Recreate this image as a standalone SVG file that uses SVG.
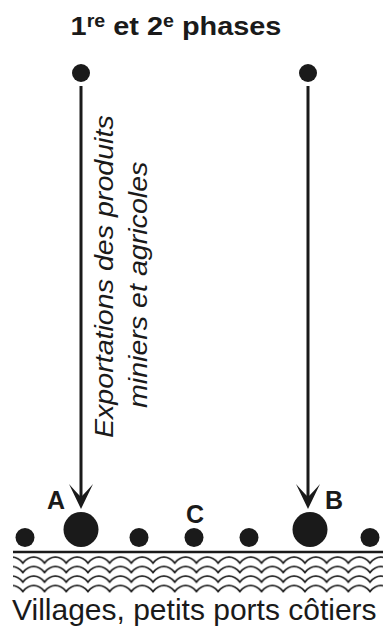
<svg xmlns="http://www.w3.org/2000/svg" width="383" height="637" viewBox="0 0 383 637">
  <style>
    .bold { font-family: "Liberation Sans", Arial, sans-serif; font-weight: bold; fill: #1a1a1a; }
    .reg { font-family: "Liberation Sans", Arial, sans-serif; fill: #1a1a1a; }
    .ital { font-family: "Liberation Sans", Arial, sans-serif; font-style: italic; font-size: 26px; fill: #1a1a1a; }
    .dot { fill: #1a1a1a; }
    .flow { stroke: #1a1a1a; stroke-width: 3; fill: none; marker-end: url(#head); }
  </style>
  <defs>
    <marker id="head" viewBox="-26 -13 27 26" refX="-10" refY="0" markerWidth="27" markerHeight="26" markerUnits="userSpaceOnUse" orient="auto">
      <path d="M0,0 L-25,-12 Q-17,-5 -12,0 Q-17,5 -25,12 Z" fill="#1a1a1a"/>
    </marker>
    <pattern id="waves" patternUnits="userSpaceOnUse" x="12" y="555" width="21.7" height="9.5">
      <path d="M0,2 Q6,2 10.85,8 Q15.7,2 21.7,2" fill="none" stroke="#1a1a1a" stroke-width="1.8"/>
    </pattern>
  </defs>

  <!-- title -->
  <g id="title" transform="translate(176,35) scale(1.09,1)">
    <text class="bold" x="0" y="0" font-size="26.5" text-anchor="middle">1<tspan font-size="18" dy="-8">re</tspan><tspan dy="8"> et 2</tspan><tspan font-size="18" dy="-8">e</tspan><tspan dy="8"> phases</tspan></text>
  </g>

  <!-- origins of the two flows -->
  <g id="origin-left"><circle class="dot" cx="81" cy="73" r="9"/></g>
  <g id="origin-right"><circle class="dot" cx="308" cy="73" r="9"/></g>

  <!-- flows -->
  <g id="connectors">
    <line class="flow" x1="81" y1="86" x2="81" y2="499"/>
    <line class="flow" x1="308" y1="86" x2="308" y2="499"/>
  </g>

  <!-- flow label -->
  <g id="flow-label">
    <text class="ital" transform="translate(113,438) rotate(-90) scale(1.1,1)">Exportations des produits</text>
    <text class="ital" transform="translate(147,408) rotate(-90) scale(1.1,1)">miniers et agricoles</text>
  </g>

  <!-- coastal settlements -->
  <g id="village-1"><circle class="dot" cx="25" cy="537.5" r="9.5"/></g>
  <g id="port-A">
    <circle class="dot" cx="81" cy="529.5" r="17.5"/>
    <text class="bold" x="56" y="509" font-size="25" text-anchor="middle">A</text>
  </g>
  <g id="village-2"><circle class="dot" cx="139" cy="537.5" r="9.5"/></g>
  <g id="port-C">
    <circle class="dot" cx="194" cy="537.5" r="9.5"/>
    <text class="bold" x="195" y="523" font-size="25" text-anchor="middle">C</text>
  </g>
  <g id="village-3"><circle class="dot" cx="249" cy="537.5" r="9.5"/></g>
  <g id="port-B">
    <circle class="dot" cx="310" cy="529.5" r="17.5"/>
    <text class="bold" x="334" y="509" font-size="25" text-anchor="middle">B</text>
  </g>
  <g id="village-4"><circle class="dot" cx="370" cy="537.5" r="9.5"/></g>

  <!-- coastline and sea -->
  <g id="coast">
    <line x1="13" y1="552" x2="383" y2="552" stroke="#1a1a1a" stroke-width="2.5"/>
    <rect x="13" y="555" width="370" height="38" fill="url(#waves)"/>
  </g>

  <g id="caption">
    <text class="reg" x="12" y="620" font-size="30">Villages, petits ports côtiers</text>
  </g>
</svg>
